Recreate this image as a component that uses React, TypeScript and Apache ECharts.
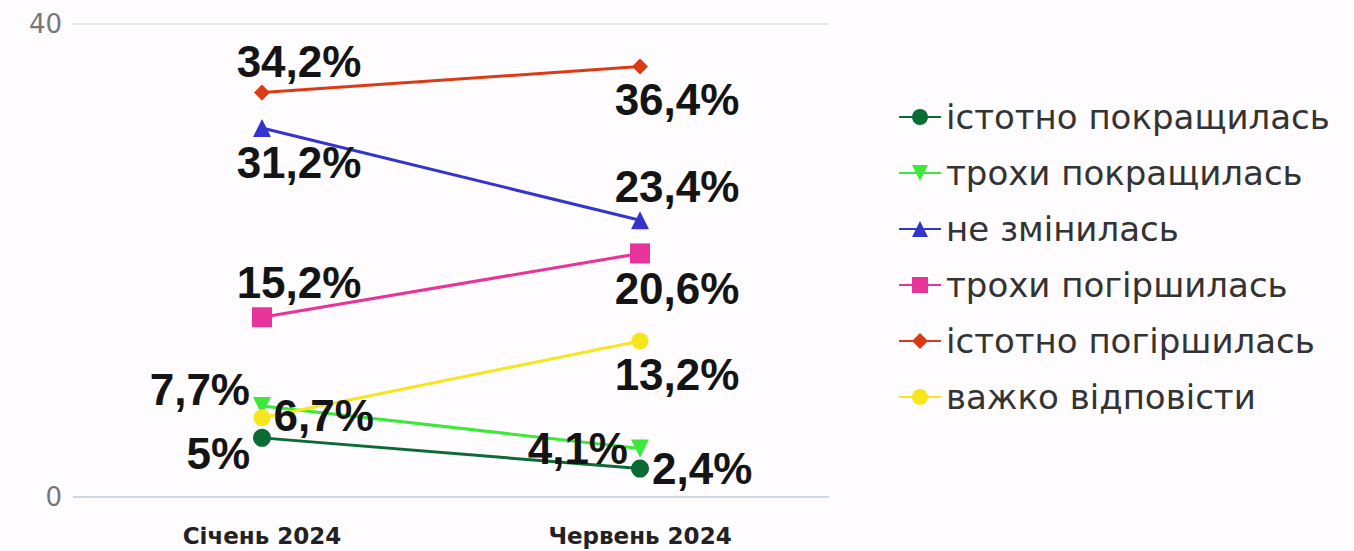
import React, { useEffect, useRef } from "react";
import * as echarts from "echarts";

const categories = ["Січень 2024", "Червень 2024"];
const seriesNames = [
  "істотно покращилась",
  "трохи покращилась",
  "не змінилась",
  "трохи погіршилась",
  "істотно погіршилась",
  "важко відповісти",
];
const significantlyImproved = [5, 2.4];
const slightlyImproved = [7.7, 4.1];
const unchanged = [31.2, 23.4];
const slightlyWorse = [15.2, 20.6];
const significantlyWorse = [34.2, 36.4];
const hardToSay = [6.7, 13.2];
const yTicks = [0, 40];

const colors = ["#0b6b34", "#3ee83a", "#3434cc", "#e8339a", "#dc3a12", "#f6e61b"];
const symbols = ["circle", "triangle", "triangle", "rect", "diamond", "circle"];
const symbolRotates = [0, 180, 0, 0, 0, 0];
const symbolSizes = [18, 18, 18, 20, 16, 17];
// label placement per point: [position, offsetX, offsetY]
const labelPlacements: [string, number, number][][] = [
  [["left", 0, 16], ["right", 0, 0]],
  [["left", 0, -16], ["left", 0, 0]],
  [["bottom", 37, 0], ["top", 37, 0]],
  [["top", 37, 0], ["bottom", 37, 0]],
  [["top", 37, 2], ["bottom", 37, 0]],
  [["right", 0, -2], ["bottom", 37, 0]],
];

const allValues = [
  significantlyImproved,
  slightlyImproved,
  unchanged,
  slightlyWorse,
  significantlyWorse,
  hardToSay,
];

const fmt = (v: number) => String(v).replace(".", ",") + "%";

export default function App() {
  const ref = useRef<HTMLDivElement>(null);
  useEffect(() => {
    if (!ref.current) return;
    const chart = echarts.init(ref.current, undefined, { renderer: "svg" });
    const series = allValues.map((vals, i) => ({
      name: seriesNames[i],
      type: "line",
      data: vals.map((v, j) => ({
        value: v,
        label: {
          position: labelPlacements[i][j][0],
          offset: [labelPlacements[i][j][1], labelPlacements[i][j][2]],
        },
      })),
      symbol: symbols[i],
      symbolSize: symbolSizes[i],
      symbolRotate: symbolRotates[i],
      itemStyle: { color: colors[i] },
      lineStyle: { color: colors[i], width: 3 },
      label: {
        show: true,
        distance: 3,
        formatter: (p: any) => fmt(p.value),
        fontFamily: "Liberation Sans",
        fontWeight: "bold",
        fontSize: 44,
        color: "#141414",
      },
      z: 2,
    }));
    chart.setOption({
      animation: false,
      backgroundColor: "#fefcfe",
      grid: { left: 73, right: 525, top: 24, bottom: 54 },
      legend: {
        orient: "vertical",
        left: 893,
        top: 94,
        itemWidth: 42,
        itemHeight: 20,
        itemGap: 20,
        data: seriesNames,
        textStyle: {
          fontFamily: "DejaVu Sans",
          fontSize: 34,
          lineHeight: 36,
          color: "#333333",
        },
      },
      xAxis: {
        type: "category",
        data: categories,
        boundaryGap: true,
        axisLine: { show: false },
        axisTick: { show: false },
        axisLabel: {
          fontFamily: "DejaVu Sans",
          fontWeight: "bold",
          fontSize: 23,
          color: "#222222",
          margin: 27,
        },
      },
      yAxis: {
        type: "value",
        min: yTicks[0],
        max: yTicks[1],
        interval: 40,
        axisLine: { show: false },
        axisTick: { show: false },
        axisLabel: {
          fontFamily: "DejaVu Sans",
          fontSize: 26,
          color: "#777777",
          margin: 11,
        },
        splitLine: {
          lineStyle: { color: ["#cfd8e8", "#e6e6ea"], width: 2 },
        },
      },
      series,
    });
    return () => chart.dispose();
  }, []);
  return (
    <div
      ref={ref}
      style={{ position: "fixed", left: 0, top: 0, width: 1354, height: 551 }}
    />
  );
}
